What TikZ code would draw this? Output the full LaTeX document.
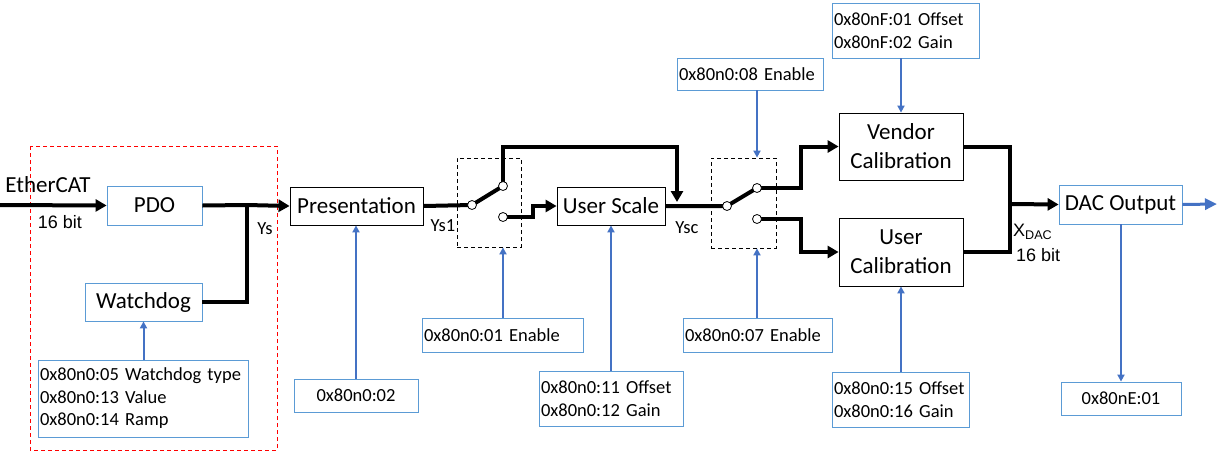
\documentclass[tikz,border=0pt]{standalone}
\usepackage{fontspec}
\setmainfont{Carlito}
\newfontfamily\arialfont{Liberation Sans}
\usetikzlibrary{arrows.meta}
\definecolor{boxblue}{HTML}{5B9BD5}
\definecolor{lineblue}{HTML}{4472C4}
\newcommand{\bigtxt}{\fontsize{23}{29}\selectfont}
\newcommand{\smalltxt}{\fontsize{18.5}{22.5}\selectfont}
\newcommand{\bittxt}{\arialfont\fontsize{18}{22}\selectfont}

\begin{document}
\begin{tikzpicture}[x=1pt,y=-1pt,
  blk/.style={draw,line width=0.8pt,inner sep=0pt,font=\bigtxt,align=center},
  bblk/.style={blk,draw=boxblue},
  regbox/.style={draw=boxblue,line width=0.8pt,inner sep=2pt,font=\smalltxt,align=left},
  swbox/.style={draw,line width=0.8pt,dash pattern=on 4pt off 3pt,inner sep=0pt},
  sig/.style={line width=4pt},
  sigarr/.style={line width=4pt,-{Triangle[length=11pt,width=12pt]}},
  ctl/.style={lineblue,line width=2pt,-{Triangle[length=7pt,width=7pt]}},
  contact/.style={draw,fill=white,line width=0.8pt},
  lbl/.style={inner sep=0pt,font=\smalltxt}]
      \useasboundingbox (0,0) rectangle (1218,453);
      % watchdog zone
      \draw[red,line width=1pt,dash pattern=on 4pt off 3pt] (30,146) rectangle (277,450);
      % blocks
      \node[bblk,minimum width=95pt,minimum height=39pt] (pdo) at (154.5,205.5) {PDO};
      \node[bblk,minimum width=117pt,minimum height=38pt] (wdog) at (143.5,302) {Watchdog};
      \node[blk,minimum width=133pt,minimum height=38pt] (pres) at (356.5,206) {Presentation};
      \node[blk,minimum width=108pt,minimum height=38pt] (usc) at (611,206) {User Scale};
      \node[blk,minimum width=124pt,minimum height=67pt] (vcal) at (901,146.5) {Vendor\\Calibration};
      \node[blk,minimum width=124pt,minimum height=68pt] (ucal) at (901,252) {User\\Calibration};
      \node[bblk,minimum width=123pt,minimum height=39pt] (dac) at (1120.5,204.5) {DAC Output};
      \node[swbox,minimum width=64pt,minimum height=89pt] (sw1) at (489,202.5) {};
      \node[swbox,minimum width=65pt,minimum height=90pt] (sw2) at (743.5,203) {};
      % objects
      \node[regbox,text width=206pt,minimum height=77pt] (wdreg) at (143,398.5) {0x80n0:05 Watchdog type\\0x80n0:13 Value\\0x80n0:14 Ramp};
      \node[regbox,text width=120pt,minimum height=33pt,align=center] (presreg) at (356,395.5) {0x80n0:02};
      \node[regbox,text width=157pt,minimum height=34pt] (en1) at (502.5,335) {0x80n0:01 Enable};
      \node[regbox,text width=140pt,minimum height=55pt] (uscreg) at (611,398.5) {0x80n0:11 Offset\\0x80n0:12 Gain};
      \node[regbox,text width=145pt,minimum height=34pt] (en7) at (757.5,335) {0x80n0:07 Enable};
      \node[regbox,text width=142pt,minimum height=32pt] (en8) at (750,74) {0x80n0:08 Enable};
      \node[regbox,text width=143pt,minimum height=55pt] (vcalreg) at (905.5,30.5) {0x80nF:01 Offset\\0x80nF:02 Gain};
      \node[regbox,text width=133pt,minimum height=55pt] (ucalreg) at (900.5,399.5) {0x80n0:15 Offset\\0x80n0:16 Gain};
      \node[regbox,text width=116pt,minimum height=33pt,align=center] (dacreg) at (1121,398.5) {0x80nE:01};
      % switch contacts and junctions
      \coordinate (src) at (0,205);
      \coordinate (ys) at (247,205);
      \coordinate (s1in) at (472,205);
      \coordinate (s1up) at (503,186);
      \coordinate (s1lo) at (503,217);
      \coordinate (byp) at (677,147);
      \coordinate (s2in) at (727,206);
      \coordinate (s2up) at (757,188);
      \coordinate (s2lo) at (757,219);
      \coordinate (merge) at (1010,204);
      \coordinate (out) at (1217,204);
      % signal path
      \draw[sigarr] (src) -- (pdo.west);
      \draw[sig] (pdo.east) -- (ys);
      \draw[sig] (wdog.east) -| (ys);
      \draw[sigarr] (ys) -- (pres.west);
      \draw[sig] (pres.east) -- (s1in) -- (s1up);
      \draw[sigarr] (s1up) |- (byp) -- ++(0,55);
      \draw[sigarr] (s1lo) -- ++(30,0) |- (usc.west);
      \draw[sig] (usc.east) -- (s2in) -- (s2up);
      \draw[sigarr] (s2up) -- ++(44,0) |- (vcal.west);
      \draw[sigarr] (s2lo) -- ++(44,0) |- (ucal.west);
      \draw[sig] (vcal.east) -| (merge) |- (ucal.east);
      \draw[sigarr] (merge) -- (dac.west);
      \foreach \c in {s1in,s1up,s1lo,s2in,s2up,s2lo}
        \draw[contact] (\c) circle (4.5pt);
      % parameter arrows
      \draw[ctl] (wdreg.north -| wdog.south) -- (wdog.south);
      \draw[ctl] (presreg.north) -- (presreg.north |- pres.south);
      \draw[ctl] (en1.north -| s1up) -- (sw1.south -| s1up);
      \draw[ctl] (uscreg.north) -- (uscreg.north |- usc.south);
      \draw[ctl] (en7.north -| s2up) -- (sw2.south -| s2up);
      \draw[ctl] (en8.south -| s2up) -- (sw2.north -| s2up);
      \draw[ctl] (vcalreg.south -| vcal.north) -- (vcal.north);
      \draw[ctl] (ucalreg.north -| ucal.south) -- (ucal.south);
      \draw[ctl] (dac.south -| dacreg.north) -- (dacreg.north);
      \draw[lineblue,line width=3pt,-{Triangle[length=12pt,width=11pt]}] (dac.east) -- (out);
      % labels
      \node[lbl,font=\bigtxt] (ecat) at (48,185) {EtherCAT};
      \node[lbl,font=\bittxt] (inbits) at (60,222) {16 bit};
      \node[lbl] (ysl) at (265,229) {Ys};
      \node[lbl] (ys1l) at (443,226) {Ys1};
      \node[lbl] (yscl) at (687,228) {Ysc};
      \node[lbl,anchor=west,font=\bittxt] (xdac) at (1013,232) {X\textsubscript{DAC}};
      \node[lbl,anchor=west,font=\bittxt] (outbits) at (1016,255) {16 bit};
    \end{tikzpicture}
\end{document}
